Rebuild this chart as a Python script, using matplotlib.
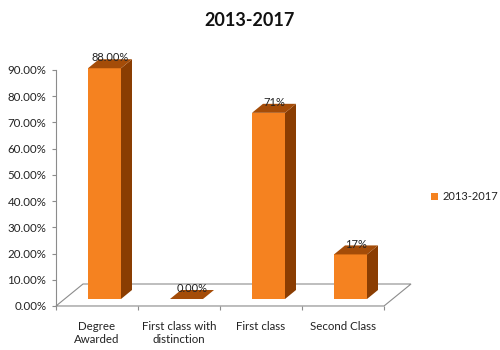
import matplotlib
matplotlib.use("Agg")
import matplotlib.pyplot as plt
from matplotlib.patches import Polygon

plt.rcParams['font.family'] = ['Lato', 'DejaVu Sans']

title = "2013-2017"
series_name = "2013-2017"
categories = ["Degree\nAwarded", "First class with\ndistinction", "First class", "Second Class"]
values = [88.0, 0.0, 71.0, 17.0]
value_labels = ["88.00%", "0.00%", "71%", "17%"]
yticks = [0, 10, 20, 30, 40, 50, 60, 70, 80, 90]

FRONT = "#F58220"
TOP = "#A44C08"
SIDE = "#8A3D02"

W, H = 500, 350
fig = plt.figure(figsize=(W / 100, H / 100), dpi=100)
# axes: x from -0.5 (px 56) to 3.5 (px 384); y 0 (px 306) to 90 (px 70)
ax = fig.add_axes([56 / W, (H - 306) / H, (384 - 56) / W, (306 - 70) / H])
ax.set_xlim(-0.5, len(categories) - 0.5)
ax.set_ylim(0, 90)

pxx = 82.0          # px per category
pxy = 236 / 90.0    # px per percent

# floor parallelogram (outline)
fdx, fdy = 27 / pxx, 22 / pxy
x0, x1 = -0.5, len(categories) - 0.5
floor = Polygon([(x0, 0), (x1, 0), (x1 + fdx, fdy), (x0 + fdx, fdy)], closed=True,
                fill=False, edgecolor="#8C8C8C", lw=0.8, clip_on=False, zorder=1)
ax.add_patch(floor)

# bar geometry
bw = 33 / pxx
offx, offy = 7.5 / pxx, 7 / pxy
ddx, ddy = 11 / pxx, 9 / pxy

for i, (v, lab) in enumerate(zip(values, value_labels)):
    cx = i + offx
    xl, xr = cx - bw / 2, cx + bw / 2
    yb, yt = offy, offy + v
    if v > 0:
        ax.add_patch(Polygon([(xl, yb), (xr, yb), (xr, yt), (xl, yt)], closed=True,
                             facecolor=FRONT, edgecolor="none", clip_on=False, zorder=3))
        ax.add_patch(Polygon([(xr, yb), (xr + ddx, yb + ddy), (xr + ddx, yt + ddy), (xr, yt)],
                             closed=True, facecolor=SIDE, edgecolor="none", clip_on=False, zorder=3))
    ax.add_patch(Polygon([(xl, yt), (xr, yt), (xr + ddx, yt + ddy), (xl + ddx, yt + ddy)],
                         closed=True, facecolor=TOP, edgecolor="none", clip_on=False, zorder=3))
    ax.text(cx + ddx / 2, yt + ddy - 1.6, lab, ha="center", va="bottom",
            fontsize=8, color="#222222", zorder=4, clip_on=False)

# axes styling
for s in ["top", "right", "bottom"]:
    ax.spines[s].set_visible(False)
ax.spines["left"].set_color("#8C8C8C")
ax.spines["left"].set_linewidth(0.8)
ax.set_yticks(yticks)
ax.set_yticklabels([f"{t:.2f}%" for t in yticks])
ax.tick_params(axis="y", length=3, color="#8C8C8C", labelsize=8.3, pad=4, labelcolor="#222222")

# x ticks at category boundaries, labels at centers
ax.set_xticks([i - 0.5 for i in range(len(categories) + 1)])
ax.set_xticklabels([""] * (len(categories) + 1))
ax.tick_params(axis="x", length=3, color="#8C8C8C", direction="out")
ax.set_xticks(range(len(categories)), minor=True)
ax.set_xticklabels(categories, minor=True, fontsize=8.3, color="#222222", linespacing=1.2)
ax.tick_params(axis="x", which="minor", length=0, pad=11)
ax.axhline(0, color="#8C8C8C", lw=0.8, zorder=1)

fig.text(250 / W, 1 - 20 / H, title, ha="center", va="center", fontsize=13,
         fontweight="bold", color="#111111")

# legend
fig.patches.append(plt.Rectangle(((431) / W, 1 - 200 / H), 7 / W, 7 / H,
                                 facecolor=FRONT, edgecolor="none", transform=fig.transFigure, figure=fig))
fig.text(443 / W, 1 - 196 / H, series_name, ha="left", va="center", fontsize=8, color="#222222")

fig.savefig("out.png", dpi=100)
